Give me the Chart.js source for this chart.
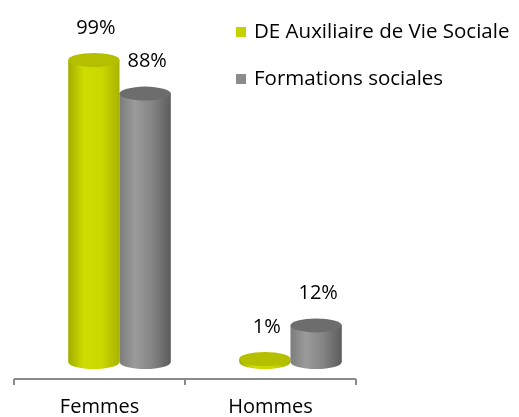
<!DOCTYPE html>
<html>
<head>
<meta charset="utf-8">
<script src="https://cdn.jsdelivr.net/npm/chart.js@4.4.1/dist/chart.umd.min.js"></script>
<style>
  html, body { margin: 0; padding: 0; background: #fff; }
</style>
</head>
<body>
<canvas id="genreChart" width="519" height="417"></canvas>
<script>
const categories = ['Femmes', 'Hommes'];
const seriesNames = ['DE Auxiliaire de Vie Sociale', 'Formations sociales'];
const avsValues = [99, 1];
const socialValues = [88, 12];
const seriesColors = ['#c6d200', '#8c8c8c'];

const FONT = '"Open Sans", sans-serif';
// 3D look: cylinders sit a bit back (right and up) from the floor line
const depthX = 20, depthY = -17;

const shades = [
    { stops: ['#a3ad00', '#cfdc00', '#cbd800', '#a9b300'], top: '#b4bf00' },
    { stops: ['#7c7c7c', '#9b9b9b', '#838383', '#5c5c5c'], top: '#6d6d6d' }
];

function drawCylinder(ctx, cx, w, top, base, shade) {
    const rx = w / 2, ry = 7;
    const grad = ctx.createLinearGradient(cx - rx, 0, cx + rx, 0);
    grad.addColorStop(0, shade.stops[0]);
    grad.addColorStop(0.3, shade.stops[1]);
    grad.addColorStop(0.65, shade.stops[2]);
    grad.addColorStop(1, shade.stops[3]);

    ctx.beginPath();
    ctx.moveTo(cx - rx, top);
    ctx.lineTo(cx - rx, base);
    ctx.ellipse(cx, base, rx, ry, 0, Math.PI, 0, true);
    ctx.lineTo(cx + rx, top);
    ctx.closePath();
    ctx.fillStyle = grad;
    ctx.fill();

    ctx.beginPath();
    ctx.ellipse(cx, top, rx, ry, 0, 0, Math.PI * 2);
    ctx.fillStyle = shade.top;
    ctx.fill();
}

const cylinderPlugin = {
    id: 'cylinders',
    beforeDatasetsDraw(chart) {
        const ctx = chart.ctx;
        ctx.save();
        chart.data.datasets.forEach((ds, i) => {
            chart.getDatasetMeta(i).data.forEach((bar, j) => {
                drawCylinder(ctx, bar.x + depthX, bar.width, bar.y + depthY, bar.base + depthY, shades[i]);
            });
        });
        // value labels
        ctx.font = '20px ' + FONT;
        ctx.fillStyle = '#000';
        ctx.textAlign = 'center';
        ctx.textBaseline = 'middle';
        chart.data.datasets.forEach((ds, i) => {
            chart.getDatasetMeta(i).data.forEach((bar, j) => {
                ctx.fillText(ds.data[j] + '%', bar.x + depthX + 2, bar.y + depthY - 32);
            });
        });
        ctx.restore();
        return false;
    },
    afterDraw(chart) {
        const ctx = chart.ctx, area = chart.chartArea;
        const y = area.bottom;
        ctx.save();
        // floor axis with tick marks between categories
        ctx.strokeStyle = '#8a8a8a';
        ctx.lineWidth = 2;
        ctx.beginPath();
        ctx.moveTo(area.left, y);
        ctx.lineTo(area.right, y);
        const step = (area.right - area.left) / categories.length;
        for (let k = 0; k <= categories.length; k++) {
            const x = area.left + k * step;
            ctx.moveTo(x, y);
            ctx.lineTo(x, y + 6);
        }
        ctx.stroke();

        // legend
        ctx.font = '20.5px ' + FONT;
        ctx.textBaseline = 'middle';
        ctx.textAlign = 'left';
        chart.data.datasets.forEach((ds, i) => {
            const ly = 32 + i * 47;
            ctx.fillStyle = seriesColors[i];
            ctx.fillRect(236, ly - 5, 10, 10);
            ctx.fillStyle = '#000';
            ctx.fillText(ds.label, 254, ly);
        });
        ctx.restore();
    }
};

new Chart(document.getElementById('genreChart'), {
    type: 'bar',
    data: {
        labels: categories,
        datasets: [
            { label: seriesNames[0], data: avsValues, backgroundColor: seriesColors[0] },
            { label: seriesNames[1], data: socialValues, backgroundColor: seriesColors[1] }
        ]
    },
    options: {
        responsive: false,
        animation: false,
        layout: { padding: { left: 14, right: 163, top: 74, bottom: 0 } },
        categoryPercentage: 0.6,
        barPercentage: 1,
        scales: {
            y: { display: false, min: 0, max: 100 },
            x: {
                grid: { display: false, drawTicks: false },
                border: { display: false },
                ticks: { color: '#000', padding: 16, font: { family: FONT, size: 20 } },
                afterFit(scale) { scale.height = 38; }
            }
        },
        plugins: {
            legend: { display: false },
            tooltip: { enabled: false }
        }
    },
    plugins: [cylinderPlugin]
});
</script>
</body>
</html>
